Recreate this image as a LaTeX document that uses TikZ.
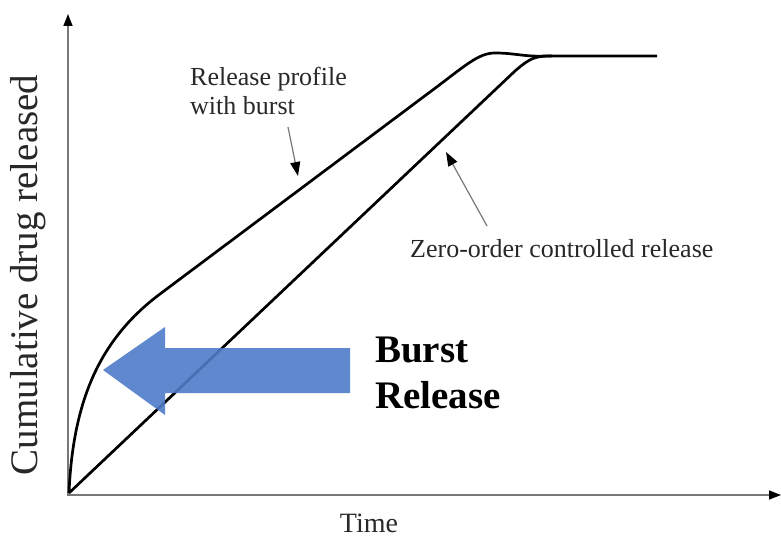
\documentclass[tikz,border=0pt]{standalone}
\usepackage{fontspec}
\setmainfont{Liberation Serif}
\usetikzlibrary{arrows.meta}
\definecolor{burstblue}{RGB}{79,124,201}
\definecolor{axisgray}{RGB}{120,120,120}
\definecolor{labelgray}{RGB}{40,40,40}
\begin{document}
\begin{tikzpicture}[x=1pt,y=-1pt,
  axisline/.style={draw=axisgray,line width=1.5pt,-{Triangle[length=12pt,width=9pt,fill=black,color=black]}},
  curveline/.style={draw=black,line width=2.7pt,line join=round},
  pointer/.style={draw=axisgray,line width=1.2pt,-{Triangle[length=14pt,width=10pt,fill=black,color=black]}},
  lbl/.style={font=\fontsize{26}{30}\selectfont,text=labelgray,inner sep=0pt},
  bigbold/.style={font=\fontsize{39}{46}\selectfont\bfseries,text=black,inner sep=0pt}]
\useasboundingbox (0,0) rectangle (781,537);
\fill[white] (0,0) rectangle (781,537);
% axes
\coordinate (O) at (68,494);
\coordinate (ytip) at (68,14);
\coordinate (xtip) at (781,495);
\draw[axisline] (68,495) -- (ytip);
\draw[axisline] (67,495) -- (xtip);
% curves
\draw[curveline] (69,493) .. controls (73,400) and (100,339) .. (160,294)
  -- (430,92) .. controls (465,66) and (478,53) .. (495,53)
  .. controls (515,53) and (525,57) .. (545,56) -- (657,56);
\draw[curveline] (69,493) -- (515,71) .. controls (530,58) and (535,56) .. (552,56);
% blue arrow
\fill[burstblue,fill opacity=0.9] (103,370) -- (165,327) -- (165,348) -- (350,348)
  -- (350,393) -- (165,393) -- (165,415) -- cycle;
% labels
\node[lbl,anchor=base west] (rp1) at (190,86) {Release profile};
\node[lbl,anchor=base west] (rp2) at (190,115) {with burst};
\coordinate (rpstart) at (288,127);
\coordinate (rptip) at (298,176);
\draw[pointer] (rpstart) -- (rptip);
\node[lbl,anchor=base west] (zo) at (410,258) {Zero-order controlled release};
\coordinate (zostart) at (487,226);
\coordinate (zotip) at (446,152);
\draw[pointer] (zostart) -- (zotip);
\node[bigbold,anchor=base west] (b1) at (375,362) {Burst};
\node[bigbold,anchor=base west] (b2) at (375,408) {Release};
\node[lbl,font=\fontsize{28}{32}\selectfont,anchor=base] (time) at (369,532) {Time};
\node[lbl,font=\fontsize{39}{42}\selectfont,anchor=base,rotate=90] (ylab) at (37,275) {Cumulative drug released};
\end{tikzpicture}
\end{document}
